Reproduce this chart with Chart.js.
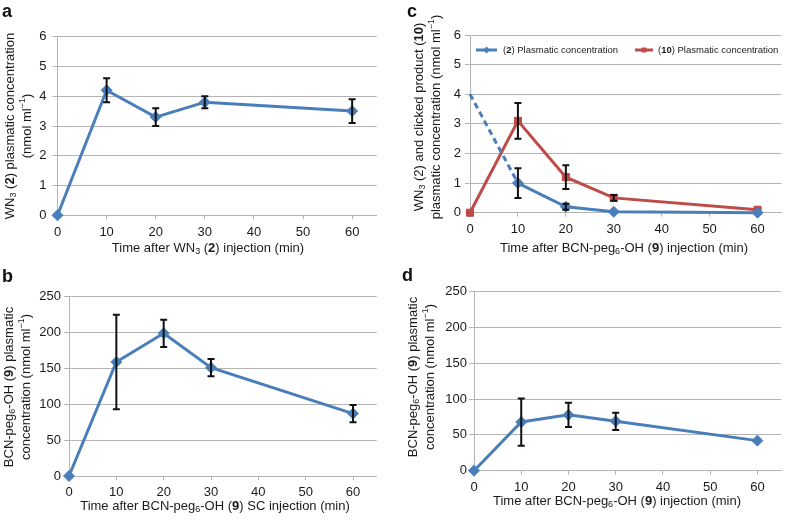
<!DOCTYPE html>
<html>
<head>
<meta charset="utf-8">
<script src="https://cdn.jsdelivr.net/npm/chart.js@4.4.1/dist/chart.umd.min.js"></script>
<style>
  body { margin: 0; background: #fff; }
  #wrap { position: relative; width: 788px; height: 520px; overflow: hidden; }
  .panel { position: absolute; width: 394px; height: 260px; }
</style>
</head>
<body>
<div id="wrap">
  <div class="panel" style="left:0;top:0"><canvas id="chartA"></canvas></div>
  <div class="panel" style="left:394px;top:0"><canvas id="chartC"></canvas></div>
  <div class="panel" style="left:0;top:260px"><canvas id="chartB"></canvas></div>
  <div class="panel" style="left:394px;top:260px"><canvas id="chartD"></canvas></div>
</div>
<script>
const FONT = "'Liberation Sans', Arial, Helvetica, sans-serif";
const BLUE = '#4a7ebb';
const RED = '#be4b48';
const GRID = '#b4b4b4';
Chart.defaults.font.family = FONT;

// sampling times (min) and axis ticks
const times = [0, 10, 20, 30, 60];
const timeTicks = [0, 10, 20, 30, 40, 50, 60];
const smallTicks = [0, 1, 2, 3, 4, 5, 6];
const largeTicks = [0, 50, 100, 150, 200, 250];

// a: WN3 (2) after WN3 injection
const wn3Conc = [0, 4.2, 3.3, 3.8, 3.5];
const wn3Err = [null, 0.4, 0.3, 0.2, 0.4];
// b: BCN-peg6-OH (9) after SC injection
const bcnScConc = [0, 159, 199, 151, 87];
const bcnScErr = [null, 66, 19, 12, 12];
// c: WN3 (2) and clicked product (10) after BCN injection
const wn3AfterBcn = [4, 1.0, 0.2, 0.03, 0];
const wn3AfterBcnErr = [null, 0.5, 0.1, null, null];
const clickedConc = [0, 3.1, 1.2, 0.5, 0.1];
const clickedErr = [null, 0.6, 0.4, 0.1, null];
// d: BCN-peg6-OH (9) after injection
const bcnConc = [0, 68, 78, 69, 42];
const bcnErr = [null, 33, 17, 12, null];

const toPoints = vals => times.map((t, i) => ({ x: t, y: vals[i] }));

// tiny markup: <b>, <sub>, <sup>
function parseRich(str) {
  const parts = [];
  const re = /<(b|sub|sup)>(.*?)<\/\1>/g;
  let last = 0, m;
  while ((m = re.exec(str))) {
    if (m.index > last) parts.push({ t: str.slice(last, m.index), s: '' });
    parts.push({ t: m[2], s: m[1] });
    last = re.lastIndex;
  }
  if (last < str.length) parts.push({ t: str.slice(last), s: '' });
  return parts;
}
function richFont(s, size) {
  if (s === 'b') return `bold ${size}px ${FONT}`;
  if (s === 'sub' || s === 'sup') return `${Math.round(size * 0.68)}px ${FONT}`;
  return `${size}px ${FONT}`;
}
function drawRich(ctx, str, x, y, size, opts = {}) {
  const parts = parseRich(str);
  ctx.save();
  ctx.translate(x, y);
  if (opts.rotate) ctx.rotate(opts.rotate);
  ctx.textBaseline = 'middle';
  ctx.textAlign = 'left';
  ctx.fillStyle = '#1a1a1a';
  let w = 0;
  parts.forEach(p => { ctx.font = richFont(p.s, size); p.w = ctx.measureText(p.t).width; w += p.w; });
  let cx = opts.align === 'left' ? 0 : -w / 2;
  parts.forEach(p => {
    ctx.font = richFont(p.s, size);
    const dy = p.s === 'sub' ? size * 0.3 : p.s === 'sup' ? -size * 0.35 : 0;
    ctx.fillText(p.t, cx, dy);
    cx += p.w;
  });
  ctx.restore();
}

const errorBars = {
  id: 'errorBars',
  afterDatasetsDraw(chart) {
    const { ctx, scales: { x, y } } = chart;
    ctx.save();
    ctx.strokeStyle = '#111';
    ctx.lineWidth = 2;
    chart.data.datasets.forEach(ds => {
      if (!ds.errors) return;
      ds.data.forEach((p, i) => {
        const e = ds.errors[i];
        if (e == null) return;
        const px = x.getPixelForValue(p.x);
        const top = y.getPixelForValue(p.y + e);
        const bot = y.getPixelForValue(Math.max(0, p.y - e));
        ctx.beginPath();
        ctx.moveTo(px, top); ctx.lineTo(px, bot);
        ctx.moveTo(px - 3.5, top); ctx.lineTo(px + 3.5, top);
        ctx.moveTo(px - 3.5, bot); ctx.lineTo(px + 3.5, bot);
        ctx.stroke();
      });
    });
    ctx.restore();
  }
};

function panelText(cfg) {
  return {
    id: 'panelText',
    afterDraw(chart) {
      const ctx = chart.ctx;
      ctx.save();
      ctx.fillStyle = '#111';
      ctx.font = `bold 18px ${FONT}`;
      ctx.textBaseline = 'alphabetic';
      ctx.fillText(cfg.letter.text, cfg.letter.x, cfg.letter.y);
      ctx.restore();
      drawRich(ctx, cfg.xTitle.text, cfg.xTitle.x, cfg.xTitle.y, 13);
      cfg.yTitles.forEach(t => drawRich(ctx, t.text, t.x, t.y, 13, { rotate: -Math.PI / 2 }));
      if (cfg.legend) {
        chart.data.datasets.forEach((ds, i) => {
          const L = cfg.legend[i];
          ctx.save();
          ctx.strokeStyle = ds.borderColor;
          ctx.lineWidth = 3;
          ctx.beginPath();
          ctx.moveTo(L.x0, L.y); ctx.lineTo(L.x1, L.y);
          ctx.stroke();
          ctx.fillStyle = ds.borderColor;
          ctx.strokeStyle = ds.borderColor;
          Chart.helpers.drawPoint(ctx, { pointStyle: ds.pointStyle, radius: 3.5, rotation: 0, borderWidth: 0 }, (L.x0 + L.x1) / 2, L.y);
          ctx.restore();
          drawRich(ctx, ds.label, L.tx, L.y, 9.5, { align: 'left' });
        });
      }
    }
  };
}

function makeChart(id, cfg) {
  const a = cfg.area;
  return new Chart(document.getElementById(id), {
    type: 'line',
    data: { datasets: cfg.datasets },
    options: {
      responsive: true,
      maintainAspectRatio: false,
      animation: false,
      layout: { padding: { left: 0, top: a.top, right: 394 - a.right, bottom: 0 } },
      plugins: { legend: { display: false }, tooltip: { enabled: false } },
      scales: {
        x: {
          type: 'linear', min: 0, max: 65,
          afterBuildTicks: s => { s.ticks = timeTicks.map(v => ({ value: v })); },
          afterFit: s => { s.height = 260 - a.bottom; },
          grid: { drawOnChartArea: false, tickLength: 4, color: GRID, tickColor: GRID },
          border: { color: GRID },
          ticks: { font: { size: 13 }, color: '#1a1a1a', padding: 5, maxRotation: 0 }
        },
        y: {
          min: 0, max: cfg.yTicks[cfg.yTicks.length - 1],
          afterBuildTicks: s => { s.ticks = cfg.yTicks.map(v => ({ value: v })); },
          afterFit: s => { s.width = a.left; },
          grid: { color: GRID, tickLength: 5, tickColor: GRID },
          border: { color: GRID },
          ticks: { font: { size: 13 }, color: '#1a1a1a', padding: cfg.yPad }
        }
      }
    },
    plugins: [errorBars, panelText(cfg)]
  });
}

const lineStyle = (color, shape, r) => ({
  borderColor: color, backgroundColor: color, borderWidth: 3,
  pointStyle: shape, pointRadius: r, pointBackgroundColor: color,
  pointBorderColor: color, pointBorderWidth: 1, tension: 0, clip: false
});

makeChart('chartA', {
  area: { left: 57.5, right: 376.7, top: 36.7, bottom: 215.3 },
  yTicks: smallTicks, yPad: 6,
  letter: { text: 'a', x: 2, y: 17 },
  xTitle: { text: 'Time after WN<sub>3</sub> (<b>2</b>) injection (min)', x: 208, y: 248 },
  yTitles: [
    { text: 'WN<sub>3</sub> (<b>2</b>) plasmatic concentration', x: 10, y: 126 },
    { text: '(nmol ml<sup>−1</sup>)', x: 27, y: 126 }
  ],
  datasets: [{ ...lineStyle(BLUE, 'rectRot', 5.5), label: 'WN3 (2)', data: toPoints(wn3Conc), errors: wn3Err }]
});

makeChart('chartB', {
  area: { left: 69, right: 376.7, top: 36.7, bottom: 216 },
  yTicks: largeTicks, yPad: 3,
  letter: { text: 'b', x: 2, y: 22 },
  xTitle: { text: 'Time after BCN-peg<sub>6</sub>-OH (<b>9</b>) SC injection (min)', x: 215, y: 246 },
  yTitles: [
    { text: 'BCN-peg<sub>6</sub>-OH (<b>9</b>) plasmatic', x: 9, y: 127 },
    { text: 'concentration (nmol ml<sup>−1</sup>)', x: 26, y: 127 }
  ],
  datasets: [{ ...lineStyle(BLUE, 'rectRot', 5.5), label: 'BCN-peg6-OH (9)', data: toPoints(bcnScConc), errors: bcnScErr }]
});

makeChart('chartC', {
  area: { left: 76, right: 392, top: 35, bottom: 212.7 },
  yTicks: smallTicks, yPad: 4,
  letter: { text: 'c', x: 13, y: 17 },
  xTitle: { text: 'Time after BCN-peg<sub>6</sub>-OH (<b>9</b>) injection (min)', x: 230, y: 248 },
  yTitles: [
    { text: 'WN<sub>3</sub> (2) and clicked product (<b>10</b>)', x: 25, y: 117 },
    { text: 'plasmatic concentration (nmol ml<sup>−1</sup>)', x: 42, y: 117 }
  ],
  legend: [
    { x0: 82, x1: 103, tx: 109, y: 50 },
    { x0: 241, x1: 259, tx: 264, y: 50 }
  ],
  datasets: [
    {
      ...lineStyle(BLUE, 'rectRot', 5.5), label: '(<b>2</b>) Plasmatic concentration',
      data: toPoints(wn3AfterBcn), errors: wn3AfterBcnErr,
      pointRadius: [0, 5.5, 5.5, 5.5, 5.5],
      segment: { borderDash: c => c.p0DataIndex === 0 ? [6, 4] : undefined }
    },
    { ...lineStyle(RED, 'rect', 5), label: '(<b>10</b>) Plasmatic concentration', data: toPoints(clickedConc), errors: clickedErr }
  ]
});

makeChart('chartD', {
  area: { left: 80, right: 387, top: 31.7, bottom: 210.7 },
  yTicks: largeTicks, yPad: 2,
  letter: { text: 'd', x: 8, y: 21 },
  xTitle: { text: 'Time after BCN-peg<sub>6</sub>-OH (<b>9</b>) injection (min)', x: 223, y: 241 },
  yTitles: [
    { text: 'BCN-peg<sub>6</sub>-OH (<b>9</b>) plasmatic', x: 19, y: 117 },
    { text: 'concentration (nmol ml<sup>−1</sup>)', x: 36, y: 117 }
  ],
  datasets: [{ ...lineStyle(BLUE, 'rectRot', 5.5), label: 'BCN-peg6-OH (9)', data: toPoints(bcnConc), errors: bcnErr }]
});
</script>
</body>
</html>
